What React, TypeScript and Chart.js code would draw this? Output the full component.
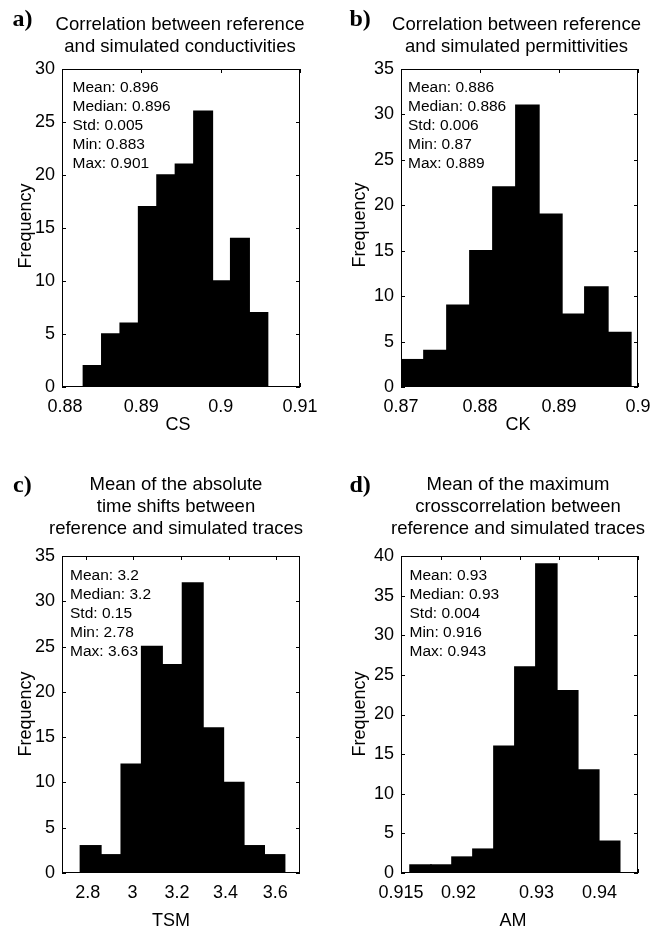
import React, { useEffect, useRef } from "react";
import { Chart, registerables } from "chart.js";

Chart.register(...registerables);

const SANS = '"Liberation Sans", Arial, Helvetica, sans-serif';
const SERIF = '"Liberation Serif", "Times New Roman", serif';

// ---------- Panel a) CS ----------
const binCentersA = [0.88386, 0.88618, 0.8885, 0.89082, 0.89314, 0.89546, 0.89779, 0.90011, 0.90243, 0.90475];
const countsA = [2, 5, 6, 17, 20, 21, 26, 10, 14, 7];
const xTicksA = [0.88, 0.89, 0.9, 0.91];
const xLabeledA = [0.88, 0.89, 0.9, 0.91];
const statsA = ["Mean: 0.896", "Median: 0.896", "Std: 0.005", "Min: 0.883", "Max: 0.901"];
const titleA = ["Correlation between reference", "and simulated conductivities"];

// ---------- Panel b) CK ----------
const binCentersB = [0.87145, 0.87436, 0.87727, 0.88018, 0.88309, 0.886, 0.88891, 0.89182, 0.89473, 0.89764];
const countsB = [3, 4, 9, 15, 22, 31, 19, 8, 11, 6];
const xTicksB = [0.87, 0.88, 0.89, 0.9];
const xLabeledB = [0.87, 0.88, 0.89, 0.9];
const statsB = ["Mean: 0.886", "Median: 0.886", "Std: 0.006", "Min: 0.87", "Max: 0.889"];
const titleB = ["Correlation between reference", "and simulated permittivities"];

// ---------- Panel c) TSM ----------
const binCentersC = [2.8203, 2.9061, 2.9919, 3.0777, 3.1635, 3.2493, 3.3351, 3.4209, 3.5067, 3.5925];
const countsC = [3, 2, 12, 25, 23, 32, 16, 10, 3, 2];
const xTicksC = [2.8, 3, 3.2, 3.4, 3.6];
const xLabeledC = [2.8, 3, 3.2, 3.4, 3.6];
const statsC = ["Mean: 3.2", "Median: 3.2", "Std: 0.15", "Min: 2.78", "Max: 3.63"];
const titleC = ["Mean of the absolute", "time shifts between", "reference and simulated traces"];

// ---------- Panel d) AM ----------
const binCentersD = [0.91747, 0.92012, 0.92278, 0.92543, 0.92809, 0.93074, 0.9334, 0.93605, 0.93871, 0.94136];
const countsD = [1, 1, 2, 3, 16, 26, 39, 23, 13, 4];
const xTicksD = [0.915, 0.92, 0.925, 0.93, 0.935, 0.94, 0.945];
const xLabeledD = [0.915, 0.92, 0.93, 0.94];
const statsD = ["Mean: 0.93", "Median: 0.93", "Std: 0.004", "Min: 0.916", "Max: 0.943"];
const titleD = ["Mean of the maximum", "crosscorrelation between", "reference and simulated traces"];

type Panel = {
  letter: string;
  xLabel: string;
  centers: number[];
  counts: number[];
  xTicks: number[];
  xLabeled: number[];
  xMin: number;
  xMax: number;
  yMax: number;
  stats: string[];
  title: string[];
  // layout (page coords)
  box: { left: number; top: number; width: number; height: number };
  area: { left: number; top: number; right: number; bottom: number };
  letterPos: [number, number];
  titleX: number;
  titleY: number;
  statsPos: [number, number];
  yLabelPos: [number, number];
  xLabelPos: [number, number];
  labelShift: number[]; // horizontal nudge of tick label text (px), per tick
};

const panels: Panel[] = [
  {
    letter: "a)", xLabel: "CS", centers: binCentersA, counts: countsA, xTicks: xTicksA, xLabeled: xLabeledA,
    xMin: 0.88, xMax: 0.91, yMax: 30, stats: statsA, title: titleA,
    box: { left: 0, top: 0, width: 333, height: 440 },
    area: { left: 62, top: 69, right: 300, bottom: 387 },
    letterPos: [12.5, 26], titleX: 180, titleY: 29.5, statsPos: [72.5, 91.7], yLabelPos: [31, 226], xLabelPos: [178, 430],
    labelShift: [3, 0, 0, 0],
  },
  {
    letter: "b)", xLabel: "CK", centers: binCentersB, counts: countsB, xTicks: xTicksB, xLabeled: xLabeledB,
    xMin: 0.87, xMax: 0.9, yMax: 35, stats: statsB, title: titleB,
    box: { left: 333, top: 0, width: 334, height: 440 },
    area: { left: 401, top: 69, right: 638, bottom: 387 },
    letterPos: [349.5, 25.5], titleX: 516.5, titleY: 29.5, statsPos: [408, 91.7], yLabelPos: [364.5, 225], xLabelPos: [518, 430],
    labelShift: [0, 0, 0, 0],
  },
  {
    letter: "c)", xLabel: "TSM", centers: binCentersC, counts: countsC, xTicks: xTicksC, xLabeled: xLabeledC,
    xMin: 2.7, xMax: 3.7, yMax: 35, stats: statsC, title: titleC,
    box: { left: 0, top: 440, width: 333, height: 487 },
    area: { left: 62, top: 556, right: 300, bottom: 873 },
    letterPos: [13, 491.5], titleX: 176, titleY: 489.5, statsPos: [70, 579.5], yLabelPos: [30.5, 714], xLabelPos: [171, 926],
    labelShift: [2, -1, -4, -3, -1],
  },
  {
    letter: "d)", xLabel: "AM", centers: binCentersD, counts: countsD, xTicks: xTicksD, xLabeled: xLabeledD,
    xMin: 0.915, xMax: 0.945, yMax: 40, stats: statsD, title: titleD,
    box: { left: 333, top: 440, width: 334, height: 487 },
    area: { left: 401, top: 556, right: 638, bottom: 873 },
    letterPos: [349.5, 491.5], titleX: 518, titleY: 489.5, statsPos: [409.5, 579.5], yLabelPos: [364.5, 714], xLabelPos: [513, 926],
    labelShift: [0, 18, 0, 17, 0, 1, 0],
  },
];

function fmt(v: number): string {
  return String(Number(v.toFixed(4)));
}

function HistPanel({ p }: { p: Panel }) {
  const ref = useRef<HTMLCanvasElement | null>(null);
  useEffect(() => {
    const canvas = ref.current;
    if (!canvas) return;
    const ox = p.box.left;
    const oy = p.box.top;
    const areaLeft = p.area.left - ox;
    const areaTop = p.area.top - oy;
    const areaRight = p.area.right - ox;
    const areaBottom = p.area.bottom - oy;

    const decor = {
      id: "decor" + p.letter,
      afterDraw(chart: any) {
        const ctx = chart.ctx as CanvasRenderingContext2D;
        const a = chart.chartArea;
        const xs = chart.scales.x;
        const ys = chart.scales.y;
        ctx.save();
        // box
        ctx.strokeStyle = "#000";
        ctx.lineWidth = 1;
        ctx.strokeRect(a.left + 0.5, a.top + 0.5, a.right - a.left - 1, a.bottom - a.top - 1);
        // inward ticks
        const tl = 4;
        ctx.beginPath();
        for (const t of xs.ticks) {
          const px = Math.round(xs.getPixelForValue(t.value)) + 0.5;
          ctx.moveTo(px, a.bottom);
          ctx.lineTo(px, a.bottom - tl);
          ctx.moveTo(px, a.top);
          ctx.lineTo(px, a.top + tl);
        }
        for (const t of ys.ticks) {
          const py = Math.round(ys.getPixelForValue(t.value)) + 0.5;
          ctx.moveTo(a.left, py);
          ctx.lineTo(a.left + tl, py);
          ctx.moveTo(a.right, py);
          ctx.lineTo(a.right - tl, py);
        }
        ctx.stroke();

        ctx.fillStyle = "#000";
        ctx.textBaseline = "alphabetic";
        // x tick labels
        ctx.font = `18px ${SANS}`;
        ctx.textAlign = "center";
        xs.ticks.forEach((t: any, i: number) => {
          const v = Number(t.value);
          if (!p.xLabeled.some((l) => Math.abs(l - v) < 1e-9)) return;
          const px = xs.getPixelForValue(v) + (p.labelShift[i] || 0);
          ctx.fillText(fmt(v), px, a.bottom + 24.5);
        });
        // panel letter
        ctx.font = `bold 24px ${SERIF}`;
        ctx.textAlign = "left";
        ctx.fillText(p.letter, p.letterPos[0] - ox, p.letterPos[1] - oy);
        // title
        ctx.font = `18.5px ${SANS}`;
        ctx.textAlign = "center";
        p.title.forEach((line, i) => {
          ctx.fillText(line, p.titleX - ox, p.titleY - oy + i * 22.2);
        });
        // stats
        ctx.font = `15.5px ${SANS}`;
        ctx.textAlign = "left";
        p.stats.forEach((line, i) => {
          ctx.fillText(line, p.statsPos[0] - ox, p.statsPos[1] - oy + i * 19.1);
        });
        // x label
        ctx.font = `18px ${SANS}`;
        ctx.textAlign = "center";
        ctx.fillText(p.xLabel, p.xLabelPos[0] - ox, p.xLabelPos[1] - oy);
        // y label
        ctx.translate(p.yLabelPos[0] - ox, p.yLabelPos[1] - oy);
        ctx.rotate(-Math.PI / 2);
        ctx.fillText("Frequency", 0, 0);
        ctx.restore();
      },
    };

    const chart = new Chart(canvas, {
      type: "bar",
      data: {
        datasets: [
          {
            data: p.centers.map((c, i) => ({ x: c, y: p.counts[i] })),
            backgroundColor: "#000",
            borderWidth: 0,
            barPercentage: 1,
            categoryPercentage: 1,
            inflateAmount: 0.8,
          },
        ],
      },
      options: {
        animation: false,
        responsive: false,
        maintainAspectRatio: false,
        layout: { padding: { top: areaTop, right: p.box.width - areaRight, left: 0, bottom: 0 } },
        plugins: { legend: { display: false }, tooltip: { enabled: false }, title: { display: false } },
        scales: {
          x: {
            type: "linear",
            min: p.xMin,
            max: p.xMax,
            offset: false,
            grid: { display: false, drawTicks: false },
            border: { display: false },
            afterBuildTicks: (s: any) => {
              s.ticks = p.xTicks.map((v) => ({ value: v }));
            },
            afterFit: (s: any) => {
              s.height = p.box.height - areaBottom;
            },
            ticks: { display: false },
          },
          y: {
            type: "linear",
            min: 0,
            max: p.yMax,
            grid: { display: false, drawTicks: false },
            border: { display: false },
            afterFit: (s: any) => {
              s.width = areaLeft;
            },
            ticks: {
              stepSize: 5,
              padding: 7,
              color: "#000",
              font: { family: SANS, size: 18 },
            },
          },
        },
      },
      plugins: [decor],
    } as any);
    return () => chart.destroy();
  }, [p]);

  return (
    <canvas
      ref={ref}
      width={p.box.width}
      height={p.box.height}
      style={{
        position: "absolute",
        left: p.box.left,
        top: p.box.top,
        width: p.box.width,
        height: p.box.height,
      }}
    />
  );
}

export default function App() {
  return (
    <div style={{ position: "absolute", left: 0, top: 0, width: 667, height: 927, background: "#fff", overflow: "hidden" }}>
      {panels.map((p) => (
        <HistPanel key={p.letter} p={p} />
      ))}
    </div>
  );
}
